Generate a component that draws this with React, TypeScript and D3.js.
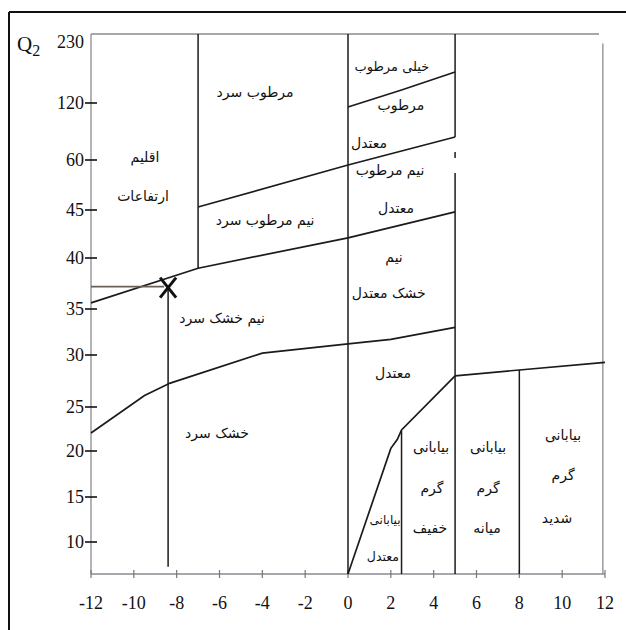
import React from "react";
import * as d3 from "d3";

// ---- data ----
const xTicks = [-12, -10, -8, -6, -4, -2, 0, 2, 4, 6, 8, 10, 12];
const yTicks = [10, 15, 20, 25, 30, 35, 40, 45, 60, 120, 230];
const yBase = 6.5; // bottom of the Q2 axis
const yTop = 230;

// boundary lines [m (°C), Q2]
const lineSubhumidCold: [number, number][] = [[-12, 35.6], [-7, 39.0], [0, 42.1], [5, 44.8]];
const lineHumidCold: [number, number][] = [[-7, 45.9], [0, 58.5], [5, 84.2]];
const lineVeryHumid: [number, number][] = [[0, 115.8], [2.5, 140.7], [5, 169.4]];
const lineSemiarid: [number, number][] = [[-12, 22.05], [-9.5, 26.1], [-8.3, 27.3], [-4, 30.2], [0, 31.2], [2, 31.7], [5, 33.0]];
const lineDesertTop: [number, number][] = [[5, 28.0], [8, 28.56], [12, 29.3]];
const lineDesertMild: [number, number][] = [[0, 6.5], [2, 20.3], [2.3, 21.3], [2.5, 22.4], [5, 28.0]];

// vertical segments: [m, Q2 from, Q2 to]
const verticals: [number, number, number][] = [
  [-7, 230, 39.0],
  [0, 230, 6.5],
  [5, 230, 84.2],
  [5, 68.4, 62.1],
  [5, 56.1, 6.5],
  [2.5, 22.3, 6.5],
  [8, 28.56, 6.5],
  [-8.4, 37, 7.3],
];

const station: [number, number] = [-8.4, 37];

const labels: { t: string; x: number; y: number; s?: number }[] = [
  { t: "اقلیم", x: -9.48, y: 63.2 },
  { t: "ارتفاعات", x: -9.57, y: 49.2 },
  { t: "مرطوب سرد", x: -4.34, y: 137.5 },
  { t: "نیم مرطوب سرد", x: -3.87, y: 44.0 },
  { t: "خیلی مرطوب", x: 2.05, y: 179, s: 13 },
  { t: "مرطوب", x: 2.47, y: 117.9 },
  { t: "معتدل", x: 0.98, y: 77.9 },
  { t: "نیم مرطوب", x: 1.96, y: 57 },
  { t: "معتدل", x: 2.24, y: 45.6 },
  { t: "نیم", x: 2.15, y: 40.1 },
  { t: "خشک معتدل", x: 1.9, y: 36.6 },
  { t: "نیم خشک سرد", x: -5.88, y: 34.0 },
  { t: "خشک سرد", x: -6.12, y: 22.05 },
  { t: "معتدل", x: 2.1, y: 28.3 },
  { t: "بیابانی", x: 3.88, y: 20.45 },
  { t: "گرم", x: 3.92, y: 15.98 },
  { t: "خفیف", x: 3.83, y: 11.56 },
  { t: "بیابانی", x: 6.54, y: 20.45 },
  { t: "گرم", x: 6.54, y: 16 },
  { t: "میانه", x: 6.49, y: 11.56 },
  { t: "بیابانی", x: 10.04, y: 21.8 },
  { t: "گرم", x: 10.04, y: 17.4 },
  { t: "شدید", x: 9.76, y: 12.67 },
  { t: "بیابانی", x: 1.73, y: 12.44, s: 12 },
  { t: "معتدل", x: 1.63, y: 8.36, s: 12.5 },
];

const W = 626;
const H = 630;

const x = d3.scaleLinear().domain([-12, 12]).range([91, 605]);
const y = d3
  .scaleLinear()
  .domain([yBase, ...yTicks])
  .range([574, 542, 497, 451, 407, 355, 309, 258, 210, 160, 103, 34]);

const line = d3
  .line<[number, number]>()
  .x((d) => x(d[0]))
  .y((d) => y(d[1]));

const serif = "'Liberation Serif', 'Times New Roman', serif";
const arab = "'DejaVu Sans', sans-serif";
const ink = "#1b1b1b";

export default function App() {
  const sx = x(station[0]);
  const sy = y(station[1]);
  return (
    <svg
      width={W}
      height={H}
      viewBox={`0 0 ${W} ${H}`}
      style={{ position: "absolute", left: 0, top: 0, background: "#fff" }}
    >
      {/* frame */}
      <line x1={9} y1={12} x2={W} y2={12} stroke="#111" strokeWidth={2} />
      <line x1={9} y1={12} x2={9} y2={H} stroke="#111" strokeWidth={2} />

      {/* axes */}
      <line x1={x(-12)} y1={y(yTop)} x2={x(11.72)} y2={y(yTop)} stroke="#8a8a92" strokeWidth={1.3} />
      <line x1={x(-12)} y1={y(yTop)} x2={x(-12)} y2={y(yBase)} stroke="#8a8a92" strokeWidth={1.3} />
      <line x1={x(-12)} y1={y(yBase)} x2={x(12)} y2={y(yBase)} stroke="#8a8a92" strokeWidth={1.3} />
      <line x1={x(11.9)} y1={y(215)} x2={x(11.9)} y2={y(yBase)} stroke="#8a8a92" strokeWidth={1.3} />

      {xTicks.map((v) => (
        <g key={"xt" + v}>
          <line x1={x(v)} x2={x(v)} y1={y(yBase) - 4} y2={y(yBase) + 4} stroke="#777" strokeWidth={1.2} />
          <text x={x(v)} y={y(yBase) + 35} textAnchor="middle" fontFamily={serif} fontSize={18} fill="#111">
            {v}
          </text>
        </g>
      ))}

      {yTicks.map((v) => (
        <g key={"yt" + v}>
          {v !== yTop && (
            <line x1={x(-12) - 6} x2={x(-12) + 6} y1={y(v)} y2={y(v)} stroke="#111" strokeWidth={1.6} />
          )}
          <text
            x={x(-12) - 7}
            y={y(v) + (v === yTop ? 14 : 6)}
            textAnchor="end"
            fontFamily={serif}
            fontSize={18}
            fill="#111"
          >
            {v}
          </text>
        </g>
      ))}

      <text x={17} y={51} fontFamily={serif} fontSize={21} fill="#111">
        Q<tspan fontSize={16} dy={5}>2</tspan>
      </text>

      {/* climate boundaries */}
      {[lineSubhumidCold, lineHumidCold, lineVeryHumid, lineSemiarid, lineDesertTop, lineDesertMild].map((pts, i) => (
        <path key={"l" + i} d={line(pts) || ""} fill="none" stroke={ink} strokeWidth={1.7} />
      ))}
      {verticals.map(([m, a, b], i) => (
        <line key={"v" + i} x1={x(m)} x2={x(m)} y1={y(a)} y2={y(b)} stroke={ink} strokeWidth={1.5} />
      ))}

      {/* station */}
      <line x1={x(-12)} x2={sx - 4} y1={sy - 2} y2={sy - 2} stroke="#6e5f55" strokeWidth={1.8} />
      <line x1={sx - 8} y1={sy - 11} x2={sx + 8} y2={sy + 9} stroke="#111" strokeWidth={3} />
      <line x1={sx + 8} y1={sy - 11} x2={sx - 8} y2={sy + 9} stroke="#111" strokeWidth={3} />

      {labels.map((l, i) => (
        <text
          key={"lb" + i}
          x={x(l.x)}
          y={y(l.y)}
          dy="0.35em"
          textAnchor="middle"
          fontFamily={arab}
          fontSize={l.s || 14}
          fill="#111"
        >
          {l.t}
        </text>
      ))}
    </svg>
  );
}
